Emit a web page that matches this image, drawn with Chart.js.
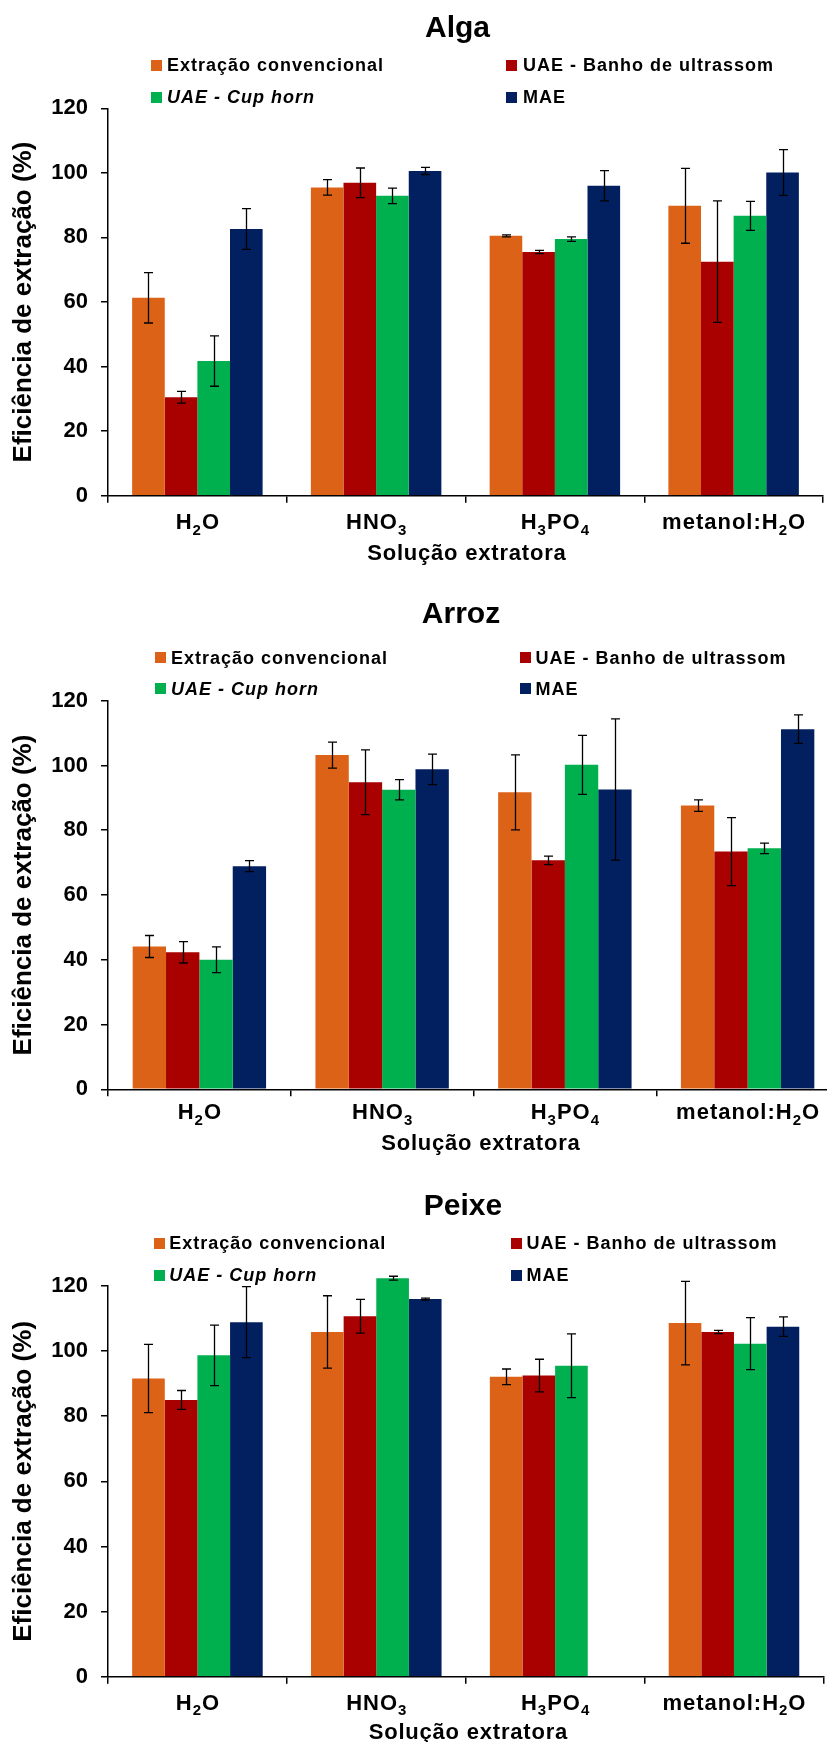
<!DOCTYPE html>
<html><head><meta charset="utf-8">
<script src="https://cdn.jsdelivr.net/npm/chart.js@4.4.1/dist/chart.umd.min.js"></script>
<style>
html,body{margin:0;padding:0;background:#fff;width:827px;height:1742px;overflow:hidden}
#page{position:relative;width:827px;height:1742px;overflow:hidden;font-family:"Liberation Sans",Arial,sans-serif;font-weight:bold;color:#000}
.panel{position:absolute;left:0}
.ttl{position:absolute;line-height:1;white-space:nowrap;transform:translateX(-50%);font-size:30px}
.lg{position:absolute;line-height:1;white-space:nowrap;font-size:18px;letter-spacing:1px}
.mk{position:absolute;width:11px;height:11px}
</style></head>
<body><div id="page"></div>
<script>
// ---------- data ----------
const categories = ["H₂O", "HNO₃", "H₃PO₄", "metanol:H₂O"];
const seriesNames = ["Extração convencional", "UAE - Banho de ultrassom", "UAE - Cup horn", "MAE"];
const sampleTitles = ["Alga", "Arroz", "Peixe"];
const yTicks = [0, 20, 40, 60, 80, 100, 120];
const yTitle = "Eficiência de extração (%)";
const xTitle = "Solução extratora";

const algaConv = [61.3, 95.5, 80.5, 89.8];
const algaConvErr = [7.8, 2.4, 0.3, 11.6];
const algaBanho = [30.5, 96.9, 75.5, 72.5];
const algaBanhoErr = [1.8, 4.6, 0.5, 18.8];
const algaCup = [41.7, 92.9, 79.5, 86.7];
const algaCupErr = [7.8, 2.4, 0.7, 4.5];
const algaMae = [82.6, 100.6, 96.0, 100.1];
const algaMaeErr = [6.3, 1.1, 4.7, 7.1];

const arrozConv = [44.1, 103.2, 91.7, 87.6];
const arrozConvErr = [3.4, 4.0, 11.6, 1.8];
const arrozBanho = [42.3, 94.8, 70.7, 73.4];
const arrozBanhoErr = [3.3, 10.0, 1.3, 10.5];
const arrozCup = [40.0, 92.5, 100.2, 74.4];
const arrozCupErr = [4.0, 3.1, 9.1, 1.6];
const arrozMae = [68.9, 98.8, 92.6, 111.2];
const arrozMaeErr = [1.7, 4.7, 21.8, 4.4];

const peixeConv = [91.6, 105.9, 92.1, 108.6];
const peixeConvErr = [10.5, 11.1, 2.4, 12.8];
const peixeBanho = [85.0, 110.7, 92.5, 105.9];
const peixeBanhoErr = [2.9, 5.2, 5.0, 0.5];
const peixeCup = [98.7, 122.4, 95.5, 102.3];
const peixeCupErr = [9.3, 0.6, 9.8, 8.0];
const peixeMae = [108.9, 116.0, null, 107.5];
const peixeMaeErr = [10.9, 0.3, null, 3.0];

// ---------- style ----------
const colors = ["#DB6217", "#A90000", "#00AF4D", "#022060"];
const FONT = '"Liberation Sans", Arial, sans-serif';

const panels = [
  {vals:[algaConv,algaBanho,algaCup,algaMae], errs:[algaConvErr,algaBanhoErr,algaCupErr,algaMaeErr],
   top:0, h:580, w:827, plotTop:108.3, xh:84.3, right:4, titleX:457.5, titleY:26.5,
   leg:{x1:151,t1:167,x2:506,t2:523,y1:65,y2:97}, labelY:521.5, xTitleX:466.5, xTitleY:552.5},
  {vals:[arrozConv,arrozBanho,arrozCup,arrozMae], errs:[arrozConvErr,arrozBanhoErr,arrozCupErr,arrozMaeErr],
   top:580, h:590, w:845, plotTop:120.7, xh:80.7, right:6, titleX:461, titleY:33,
   leg:{x1:155,t1:171,x2:519.6,t2:535.6,y1:77.7,y2:108.5}, labelY:531.5, xTitleX:480.5, xTitleY:562.5},
  {vals:[peixeConv,peixeBanho,peixeCup,peixeMae], errs:[peixeConvErr,peixeBanhoErr,peixeCupErr,peixeMaeErr],
   top:1170, h:572, w:827, plotTop:116, xh:65.3, right:3.6, titleX:463, titleY:35,
   leg:{x1:154,t1:169.3,x2:510.6,t2:526.5,y1:73.3,y2:105}, labelY:532, xTitleX:468, xTitleY:561}
];

const errorBars = {
  id:'errorBars',
  afterDatasetsDraw(chart){
    const ctx = chart.ctx, y = chart.scales.y;
    ctx.save(); ctx.strokeStyle = '#000'; ctx.lineWidth = 1.3;
    chart.data.datasets.forEach((ds, di) => {
      const meta = chart.getDatasetMeta(di);
      meta.data.forEach((bar, i) => {
        const v = ds.data[i], e = ds.errors[i];
        if (v == null || e == null) return;
        const x = Math.round(bar.x) + 0.5;
        const yt = y.getPixelForValue(v + e), yb = y.getPixelForValue(v - e);
        ctx.beginPath();
        ctx.moveTo(x, yt); ctx.lineTo(x, yb);
        ctx.moveTo(x - 4.5, yt); ctx.lineTo(x + 4.5, yt);
        ctx.moveTo(x - 4.5, yb); ctx.lineTo(x + 4.5, yb);
        ctx.stroke();
      });
    });
    ctx.restore();
  }
};

function drawRich(ctx, text, cx, cy, size, spacing){
  const subs = '₀₁₂₃₄₅₆₇₈₉';
  const segs = [];
  for (const ch of text){ const k = subs.indexOf(ch); segs.push(k >= 0 ? {t:String(k), sub:true} : {t:ch, sub:false}); }
  const big = `bold ${size}px ${FONT}`, small = `bold ${Math.round(size*0.68)}px ${FONT}`;
  let w = 0;
  segs.forEach(s => { ctx.font = s.sub ? small : big; s.w = ctx.measureText(s.t).width + spacing; w += s.w; });
  w -= spacing;
  let x = cx - w/2;
  ctx.textAlign = 'left'; ctx.textBaseline = 'alphabetic'; ctx.fillStyle = '#000';
  const base = cy + size*0.358;
  segs.forEach(s => { ctx.font = s.sub ? small : big; ctx.fillText(s.t, x, base + (s.sub ? size*0.24 : 0)); x += s.w; });
}

const xLabels = {
  id:'xLabels',
  afterDraw(chart, args, opts){
    const ctx = chart.ctx, xs = chart.scales.x;
    ctx.save();
    chart.data.labels.forEach((lab, i) => drawRich(ctx, lab, xs.getPixelForValue(i), opts.labelY, 22, 1));
    drawRich(ctx, xTitle, opts.xTitleX, opts.xTitleY, 22, 0.8);
    ctx.restore();
  }
};

const page = document.getElementById('page');
panels.forEach((p, pi) => {
  const div = document.createElement('div');
  div.className = 'panel';
  div.style.top = p.top + 'px'; div.style.width = p.w + 'px'; div.style.height = p.h + 'px';
  const cv = document.createElement('canvas');
  cv.width = p.w; cv.height = p.h; cv.style.width = p.w + 'px'; cv.style.height = p.h + 'px';
  div.appendChild(cv);
  page.appendChild(div);

  const t = document.createElement('div');
  t.className = 'ttl'; t.textContent = sampleTitles[pi];
  t.style.left = p.titleX + 'px'; t.style.top = (p.top + p.titleY - 15) + 'px';
  page.appendChild(t);

  const pos = [[p.leg.x1,p.leg.t1,p.leg.y1],[p.leg.x2,p.leg.t2,p.leg.y1],[p.leg.x1,p.leg.t1,p.leg.y2],[p.leg.x2,p.leg.t2,p.leg.y2]];
  seriesNames.forEach((n, si) => {
    const [mx, tx, cy] = pos[si];
    const m = document.createElement('div');
    m.className = 'mk'; m.style.background = colors[si];
    m.style.left = mx + 'px'; m.style.top = (p.top + cy - 5.5) + 'px';
    page.appendChild(m);
    const l = document.createElement('div');
    l.className = 'lg'; l.textContent = n;
    if (si === 2) l.style.fontStyle = 'italic';
    l.style.left = tx + 'px'; l.style.top = (p.top + cy - 9) + 'px';
    page.appendChild(l);
  });

  new Chart(cv.getContext('2d'), {
    type:'bar',
    data:{
      labels:categories,
      datasets:seriesNames.map((n, si) => ({
        label:n, data:p.vals[si], errors:p.errs[si],
        backgroundColor:colors[si], borderWidth:0,
        barPercentage:1, categoryPercentage:0.73, clip:false
      }))
    },
    options:{
      responsive:false, animation:false, devicePixelRatio:1,
      layout:{padding:{top:p.plotTop, left:0, right:p.right, bottom:0}},
      plugins:{legend:{display:false}, title:{display:false}, tooltip:{enabled:false},
        xLabels:{labelY:p.labelY, xTitleX:p.xTitleX, xTitleY:p.xTitleY}},
      scales:{
        x:{type:'category', offset:true, ticks:{display:false},
           grid:{offset:true, drawOnChartArea:false, drawTicks:true, tickLength:7, color:'#000', lineWidth:1.5},
           border:{display:true, color:'#000', width:1.5},
           afterFit(s){ s.height = p.xh; }},
        y:{min:0, max:120,
           afterBuildTicks(s){ s.ticks = yTicks.map(v => ({value:v})); },
           ticks:{color:'#000', padding:13, font:{family:FONT, size:22, weight:'bold'}},
           grid:{drawOnChartArea:false, drawTicks:true, tickLength:7, color:'#000', lineWidth:1.5},
           border:{display:true, color:'#000', width:1.5},
           title:{display:true, text:yTitle, color:'#000', font:{family:FONT, size:26, weight:'bold'}, padding:{top:8, bottom:0}},
           afterFit(s){ s.width = 108; }}
      }
    },
    plugins:[errorBars, xLabels]
  });
});
</script>
</body></html>
